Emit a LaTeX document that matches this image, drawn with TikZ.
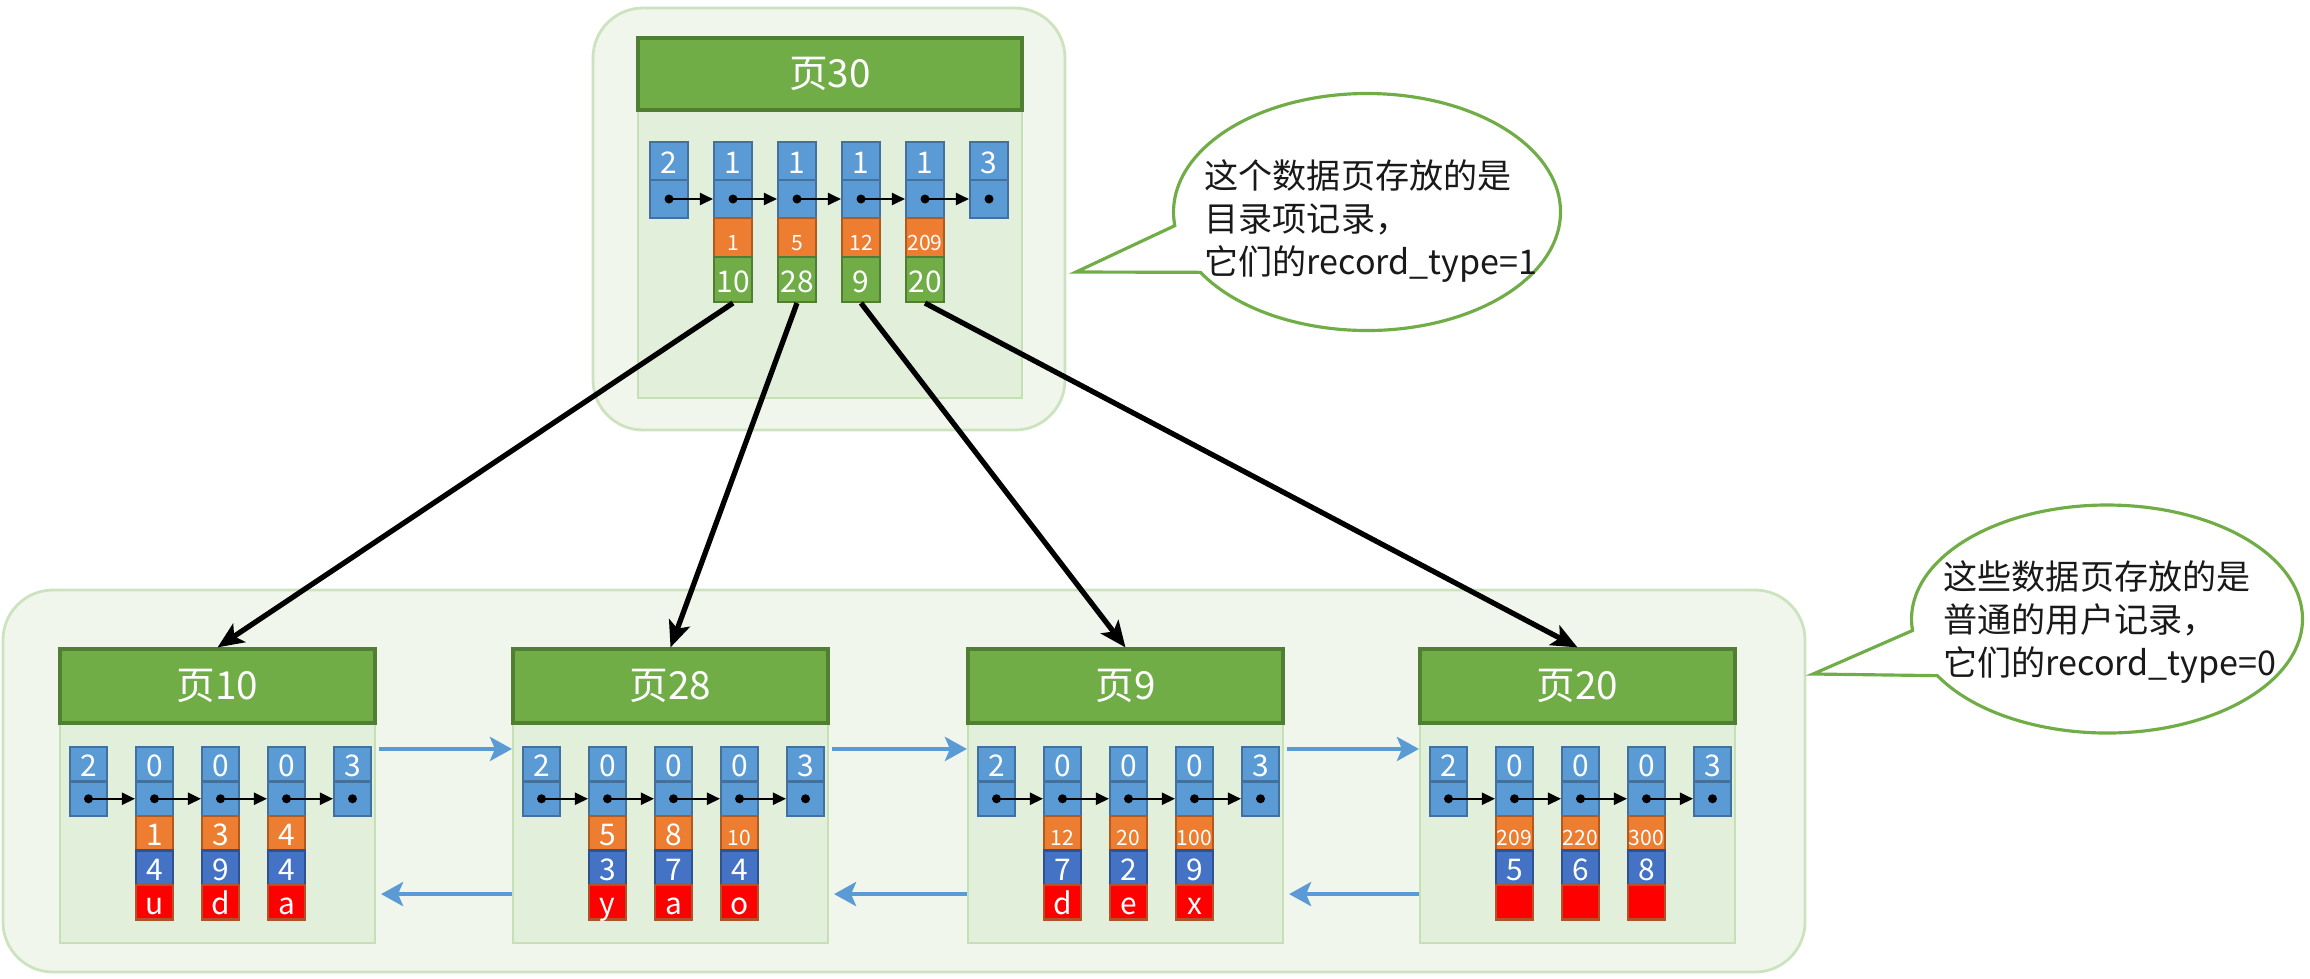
\documentclass[tikz,border=0pt]{standalone}
\usepackage{fontspec}
\setmainfont{Noto Sans CJK SC}
\usetikzlibrary{arrows.meta,shapes.callouts}

\definecolor{headfill}{HTML}{70AD47}
\definecolor{headline}{HTML}{507E32}
\definecolor{bodyfill}{HTML}{E2EFDA}
\definecolor{bodyline}{HTML}{C5E0B4}
\definecolor{framefill}{HTML}{F0F6EC}
\definecolor{frameline}{HTML}{CDE3BF}
\definecolor{typeblue}{HTML}{5B9BD5}
\definecolor{typeline}{HTML}{41719C}
\definecolor{keyorange}{HTML}{ED7D31}
\definecolor{keyline}{HTML}{AE5A21}
\definecolor{colblue}{HTML}{4472C4}
\definecolor{colline}{HTML}{2F528F}
\definecolor{strred}{HTML}{FF0000}
\definecolor{strline}{HTML}{B0522A}
\definecolor{linkblue}{HTML}{5B9BD5}

\newcommand{\smallnum}[1]{{\fontsize{6}{6}\selectfont #1}}

\tikzset{
  frame/.style={draw=frameline, fill=framefill, line width=0.8pt, rounded corners=0.5cm},
  pagehead/.style={draw=headline, fill=headfill, line width=0.9pt, minimum width=3.15cm,
    minimum height=0.74cm, inner sep=0pt, text=white, font=\fontsize{11}{12}\selectfont},
  pagebody/.style={draw=bodyline, fill=bodyfill, line width=0.6pt, minimum width=3.15cm,
    minimum height=2.2cm, inner sep=0pt},
  cell/.style={line width=0.6pt, minimum width=0.37cm, minimum height=0.345cm, inner sep=0pt,
    text=white, font=\fontsize{8.5}{9}\selectfont, text height=0.72em, text depth=0pt},
  typecell/.style={cell, draw=typeline, fill=typeblue},
  keycell/.style={cell, draw=keyline, fill=keyorange},
  colcell/.style={cell, draw=colline, fill=colblue},
  strcell/.style={cell, draw=strline, fill=strred},
  pagecell/.style={cell, draw=headline, fill=headfill},
  rootcell/.style={minimum width=0.38cm, minimum height=0.38cm},
  nextarrow/.style={-{Triangle[length=0.13cm,width=0.12cm]}, line width=0.6pt},
  childarrow/.style={-{Stealth[length=0.26cm,width=0.22cm,inset=0.06cm]}, line width=1.5pt},
  pagelink/.style={-{Stealth[length=0.22cm,width=0.24cm,inset=0.05cm]}, draw=linkblue, line width=1.2pt},
  bubble/.style={ellipse callout, draw=headfill, fill=white, line width=0.9pt,
    callout pointer arc=24, inner sep=0pt},
  note/.style={align=left, text=black!90, font=\fontsize{9.7}{12.3}\selectfont}
}

\begin{document}
\begin{tikzpicture}
\useasboundingbox (0,0) rectangle (23.1,-9.78);

% outer frames
\draw[frame] (5.93,-0.08) rectangle (10.65,-4.30);
\draw[frame] (0.03,-5.90) rectangle (18.05,-9.72);

% root page
\node[pagebody, minimum width=3.84cm, minimum height=2.88cm] (b30) at (8.30,-2.54) {};
\node[pagehead, minimum width=3.84cm, minimum height=0.72cm] (p30) at (8.30,-0.74) {页30};
\foreach \t [count=\i, evaluate=\i as \x using 6.69+0.64*(\i-1)] in {2,1,1,1,1,3} {
  \node[typecell, rootcell] (r30-\i-t) at (\x,-1.61) {\t};
  \node[typecell, rootcell] (r30-\i-n) at (\x,-1.99) {};
}
\foreach \k/\pg [count=\j, evaluate=\j as \x using 7.33+0.64*(\j-1)] in {1/10,5/28,12/9,209/20} {
  \node[keycell, rootcell, minimum height=0.39cm] (r30-\j-k) at (\x,-2.375) {\smallnum{\k}};
  \node[pagecell, rootcell, minimum height=0.45cm] (r30-\j-p) at (\x,-2.795) {\pg};
}
\foreach \i [evaluate=\i as \j using int(\i+1)] in {1,...,5} {
  \fill (r30-\i-n.center) circle (0.045);
  \draw[nextarrow] (r30-\i-n.center) -- (r30-\j-n.west);
}
\fill (r30-6-n.center) circle (0.045);

% leaf pages
\foreach \pg/\lx/\keys/\cols/\strs in {
    10/0.60/{1,3,4}/{4,9,4}/{u,d,a},
    28/5.13/{5,8,\smallnum{10}}/{3,7,4}/{y,a,o},
    9/9.68/{\smallnum{12},\smallnum{20},\smallnum{100}}/{7,2,9}/{d,e,x},
    20/14.20/{\smallnum{209},\smallnum{220},\smallnum{300}}/{5,6,8}/{{},{},{}}} {
  \node[pagebody] (b\pg) at (\lx+1.575,-8.33) {};
  \node[pagehead] (p\pg) at (\lx+1.575,-6.86) {页\pg};
  \foreach \t [count=\i] in {2,0,0,0,3} {
    \node[typecell] (r\pg-\i-t) at (\lx-0.375+0.66*\i,-7.6425) {\t};
    \node[typecell] (r\pg-\i-n) at (\lx-0.375+0.66*\i,-7.9875) {};
  }
  \foreach \k [count=\i] in \keys
    \node[keycell] (r\pg-\i-k) at (\lx+0.285+0.66*\i,-8.3325) {\k};
  \foreach \v [count=\i] in \cols
    \node[colcell] (r\pg-\i-v) at (\lx+0.285+0.66*\i,-8.6775) {\v};
  \foreach \s [count=\i] in \strs
    \node[strcell] (r\pg-\i-s) at (\lx+0.285+0.66*\i,-9.0225) {\s};
  \foreach \i [evaluate=\i as \j using int(\i+1)] in {1,...,4} {
    \fill (r\pg-\i-n.center) circle (0.045);
    \draw[nextarrow] (r\pg-\i-n.center) -- (r\pg-\j-n.west);
  }
  \fill (r\pg-5-n.center) circle (0.045);
}

% root -> leaves
\foreach \j/\pg in {1/10,2/28,3/9,4/20}
  \draw[childarrow] (r30-\j-p.south) -- (p\pg.north);

% sibling links
\foreach \a/\b in {10/28,28/9,9/20} {
  \draw[pagelink] ([xshift=0.03cm,yshift=-0.27cm]b\a.north east) -- ([yshift=-0.27cm]b\b.north west);
  \draw[pagelink] ([yshift=0.5cm]b\b.south west) -- ([xshift=0.05cm,yshift=0.5cm]b\a.south east);
}

% notes
\coordinate (tip30) at (10.76,-2.72);
\node[bubble, minimum width=3.87cm, minimum height=2.37cm, callout absolute pointer={(tip30)}] (c30) at (13.67,-2.12) {};
\node[note] (n30) at (13.71,-2.21) {这个数据页存放的是\\目录项记录，\\它们的record\_type=1};

\coordinate (tipleaf) at (18.13,-6.74);
\node[bubble, minimum width=3.91cm, minimum height=2.28cm, callout absolute pointer={(tipleaf)}] (cleaf) at (21.07,-6.19) {};
\node[note] (nleaf) at (21.10,-6.22) {这些数据页存放的是\\普通的用户记录，\\它们的record\_type=0};
\end{tikzpicture}
\end{document}
